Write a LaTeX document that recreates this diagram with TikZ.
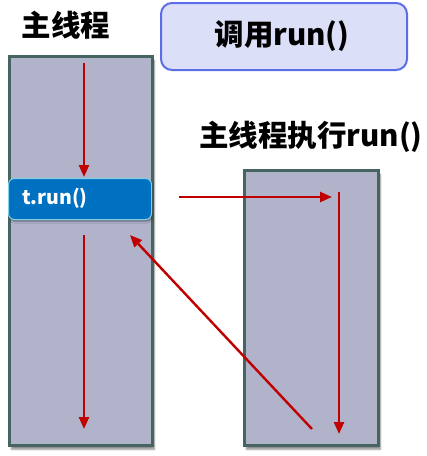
\documentclass[tikz,border=0pt]{standalone}
\usepackage{fontspec}
\newfontfamily\cjk{Noto Sans CJK SC}
\usetikzlibrary{arrows.meta,shadows.blur}
\definecolor{boxfill}{HTML}{B1B3CB}
\definecolor{boxline}{HTML}{456462}
\definecolor{bluefill}{HTML}{0070C0}
\definecolor{blueline}{HTML}{7FD0E8}
\definecolor{callfill}{HTML}{DCDFF8}
\definecolor{callline}{HTML}{5B6EE8}
\definecolor{arrowred}{HTML}{C00000}
\begin{document}
\begin{tikzpicture}[x=1pt,y=-1pt,
  threadbox/.style={draw=boxline, line width=2.6pt, fill=boxfill, anchor=north west, inner sep=0pt,
    blur shadow={shadow xshift=2pt, shadow yshift=-4pt, shadow blur steps=6, shadow opacity=45}},
  callbox/.style={fill=bluefill, draw=blueline, line width=1pt, rounded corners=6pt, anchor=north west, inner sep=0pt,
    blur shadow={shadow xshift=1pt, shadow yshift=-2pt, shadow blur steps=4, shadow opacity=40}},
  notebox/.style={draw=callline, line width=2pt, fill=callfill, rounded corners=11pt, anchor=north west, inner sep=0pt},
  title/.style={font=\cjk\bfseries\fontsize{29.5}{31}\selectfont, inner sep=0pt},
  flow/.style={draw=arrowred, line width=2.4pt, -{Triangle[length=12pt,width=10pt]}}]
\useasboundingbox (0,0) rectangle (427,456);
\node[threadbox, minimum width=143pt, minimum height=389pt] (main) at (8,55) {};
\node[threadbox, minimum width=134pt, minimum height=275pt] (sub) at (243,169) {};
\node[notebox, minimum width=246pt, minimum height=67pt] (note) at (160,2) {};
\node[callbox, minimum width=143pt, minimum height=41pt] (run) at (8,178) {};
\node[font=\cjk\bfseries\fontsize{19.5}{21}\selectfont, text=white, anchor=west, inner sep=0pt] (runtxt) at (22,198) {t.run()};
\node[title] (mainlbl) at (66,25) {主线程};
\node[title] (notelbl) at (282,36) {调用run()};
\node[title] (sublbl) at (311,137) {主线程执行run()};
\coordinate (a1s) at (84,63);
\coordinate (a1e) at (84,177);
\coordinate (a2s) at (84,235);
\coordinate (a2e) at (84,429);
\coordinate (a3s) at (179,197);
\coordinate (a3e) at (332,197);
\coordinate (a4s) at (339,192);
\coordinate (a4e) at (339,434);
\coordinate (a5s) at (312,429);
\coordinate (a5e) at (130,235);
\draw[flow] (a1s) -- (a1e);
\draw[flow] (a2s) -- (a2e);
\draw[flow] (a3s) -- (a3e);
\draw[flow] (a4s) -- (a4e);
\draw[flow] (a5s) -- (a5e);
\end{tikzpicture}
\end{document}
